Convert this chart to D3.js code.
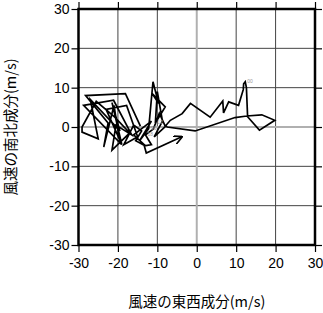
<!DOCTYPE html>
<html>
<head>
<meta charset="utf-8">
<script src="https://cdn.jsdelivr.net/npm/d3@7"></script>
<style>
  body { margin: 0; background: #fff; }
  svg { display: block; }
</style>
</head>
<body>
<div id="chart"></div>
<script>
// east-west component (u) and north-south component (v), m/s, in time order
var windU = [-14.3, -18.1, -28.2, -22.5, -23.6, -21.0, -19.5, -28.7, -21.1, -16.5,
             -20.5, -21.5, -17.0, -20.8, -25.5, -29.1, -29.1, -25.0, -27.0, -19.5,
             -21.5, -19.0, -23.0, -17.8, -15.0, -18.5, -16.0, -14.0, -15.5, -13.0,
             -16.0, -11.5, -14.5, -12.2, -11.1, -9.7, -11.3, -8.0, -10.5, -10.0,
             -8.7, -10.8, -7.8, -7.5, -0.4, 9.7, 12.7, 16.5, 19.8, 15.9,
             12.9, 12.6, 12.3, 11.9, 11.8, 10.6, 8.1, 6.8, 6.6, 3.4,
             -1.6, -3.7, -6.7, -8.0, -9.5, -11.0, -13.0, -11.5, -13.3, -12.8,
             -3.8]
var windV = [0.2, 8.5, 8.0, 1.0, -5.1, 5.5, -4.0, 5.5, 6.8, -2.0,
             0.5, -5.9, -1.5, 2.5, 6.5, 0.0, -1.3, -3.0, 7.0, -1.0,
             6.2, -4.5, 4.5, 5.5, -2.5, -4.5, 0.5, -1.0, -3.5, -4.8,
             -2.0, 1.5, -3.5, -0.4, 11.5, 6.0, 8.5, 5.1, 1.0, 9.0,
             1.5, -2.5, 0.3, 0.0, -1.0, 2.4, 2.8, 3.1, 1.7, -0.8,
             2.6, 10.0, 11.5, 11.0, 9.5, 5.5, 6.4, 3.6, 6.6, 2.5,
             6.0, 3.4, 1.7, 0.2, 3.5, -0.5, -2.0, -4.5, -4.8, -6.6,
             -2.5]
// small time labels at a few points (index into the series)
var timeIdx = [52, 33, 38, 66]
var timeText = ['00', '06', '12', '18']

var ticks = [-30, -20, -10, 0, 10, 20, 30]
var xTitle = '風速の東西成分(m/s)'
var yTitle = '風速の南北成分(m/s)'

var W = 323, H = 313
var margin = {left: 78.5, top: 9, right: 8, bottom: 68}
var w = W - margin.left - margin.right
var h = H - margin.top - margin.bottom

var x = d3.scaleLinear().domain([-30, 30]).range([0, w])
var y = d3.scaleLinear().domain([-30, 30]).range([h, 0])

var svg = d3.select('#chart').append('svg')
            .attr('width', W)
            .attr('height', H)
var g = svg.append('g')
           .attr('transform', 'translate(' + margin.left + ',' + margin.top + ')')

var defs = svg.append('defs')
defs.append('marker')
    .attr('id', 'arrow')
    .attr('viewBox', '0 0 10 10')
    .attr('refX', 9)
    .attr('refY', 5)
    .attr('markerWidth', 9)
    .attr('markerHeight', 9)
    .attr('markerUnits', 'userSpaceOnUse')
    .attr('orient', 'auto')
  .append('path')
    .attr('d', 'M0,0L10,5L0,10')
    .attr('fill', 'none')
    .attr('stroke', '#000')
    .attr('stroke-width', 1.8)

// grid
var grid = ticks.filter(function(t) { return t !== 0 && t !== -30 && t !== 30 })
g.selectAll('.gx').data(grid).enter().append('line')
  .attr('x1', x).attr('x2', x).attr('y1', 0).attr('y2', h)
  .attr('stroke', '#444').attr('stroke-width', 1)
g.selectAll('.gy').data(grid).enter().append('line')
  .attr('y1', y).attr('y2', y).attr('x1', 0).attr('x2', w)
  .attr('stroke', '#444').attr('stroke-width', 1)
g.append('line')
  .attr('x1', x(0)).attr('x2', x(0)).attr('y1', 0).attr('y2', h)
  .attr('stroke', '#b0b0b0').attr('stroke-width', 2)
g.append('line')
  .attr('y1', y(0)).attr('y2', y(0)).attr('x1', 0).attr('x2', w)
  .attr('stroke', '#b0b0b0').attr('stroke-width', 2)

// axes on all four sides
function styleAxis(sel) {
  sel.select('.domain').remove()
  sel.selectAll('.tick line').attr('stroke', '#000').attr('stroke-width', 1.2)
  sel.selectAll('.tick text')
     .attr('font-family', 'Liberation Sans, Arial, sans-serif')
     .attr('font-size', 14)
     .attr('fill', '#000')
}
var fmt = function(d) { return String(d) }
g.append('g').attr('transform', 'translate(0,' + h + ')')
 .call(d3.axisBottom(x).tickValues(ticks).tickSize(7).tickPadding(6).tickFormat(fmt))
 .call(styleAxis)
g.append('g')
 .call(d3.axisLeft(y).tickValues(ticks).tickSize(7).tickPadding(2).tickFormat(fmt))
 .call(styleAxis)
g.append('g')
 .call(d3.axisTop(x).tickValues(ticks).tickSize(7).tickFormat(''))
 .call(styleAxis)
g.append('g').attr('transform', 'translate(' + w + ',0)')
 .call(d3.axisRight(y).tickValues(ticks).tickSize(7).tickFormat(''))
 .call(styleAxis)

g.append('rect')
  .attr('width', w).attr('height', h)
  .attr('fill', 'none')
  .attr('stroke', '#000')
  .attr('stroke-width', 2.5)

// wind trace
var pts = windU.map(function(u, i) { return [u, windV[i]] })
var line = d3.line()
             .x(function(d) { return x(d[0]) })
             .y(function(d) { return y(d[1]) })
g.append('path')
  .datum(pts)
  .attr('d', line)
  .attr('fill', 'none')
  .attr('stroke', '#000')
  .attr('stroke-width', 1.7)
  .attr('stroke-linejoin', 'miter')
  .attr('marker-end', 'url(#arrow)')

g.selectAll('.tlab').data(timeIdx).enter().append('text')
  .attr('x', function(d) { return x(windU[d]) + 2 })
  .attr('y', function(d) { return y(windV[d]) + 1 })
  .attr('font-family', 'Liberation Sans, Arial, sans-serif')
  .attr('font-size', 5)
  .attr('fill', '#999')
  .text(function(d, i) { return timeText[i] })

// titles
svg.append('text')
   .attr('x', margin.left + w / 2)
   .attr('y', 307)
   .attr('text-anchor', 'middle')
   .attr('font-family', 'Noto Sans CJK JP, sans-serif')
   .attr('font-size', 14.5)
   .text(xTitle)
svg.append('text')
   .attr('transform', 'translate(16,' + (margin.top + h / 2) + ') rotate(-90)')
   .attr('text-anchor', 'middle')
   .attr('font-family', 'Noto Sans CJK JP, sans-serif')
   .attr('font-size', 14.5)
   .text(yTitle)
</script>
</body>
</html>
